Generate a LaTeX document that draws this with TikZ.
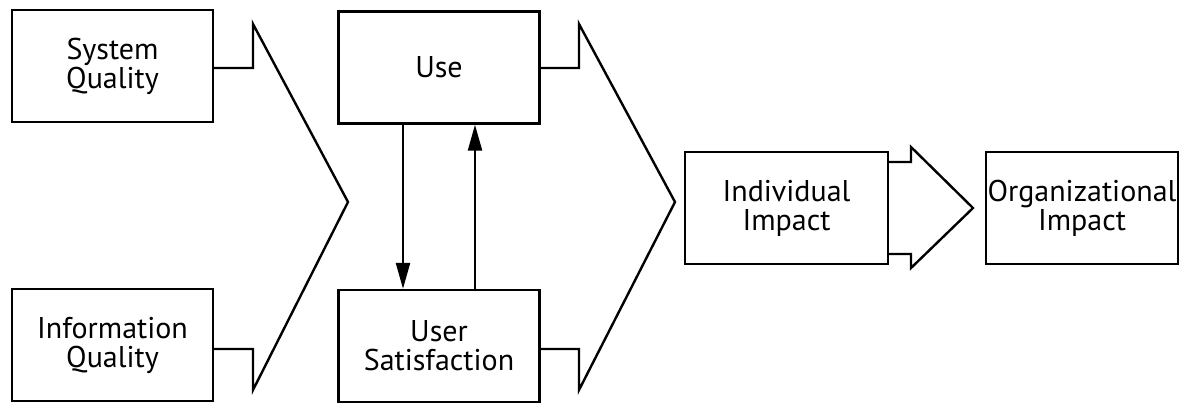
\documentclass[tikz,border=0pt]{standalone}
\usepackage{fontspec}
\setmainfont{PT Sans}
\usetikzlibrary{arrows.meta}
\begin{document}
\begin{tikzpicture}[x=1pt,y=-1pt,
  box/.style={draw, line width=2.4pt, minimum width=201pt, minimum height=112pt, align=center, inner sep=0pt,
    font=\fontsize{30}{29}\selectfont},
  ln/.style={line width=2.4pt, line join=miter},
  arr/.style={line width=2.4pt, -{Triangle[length=26pt,width=14pt]}}]
\useasboundingbox (0,0) rectangle (1180,402);
\node[box] (sq) at (112.5,66) {System\\Quality};
\node[box] (iq) at (112.5,345) {Information\\Quality};
\node[box] (use) at (439,67.5) {Use};
\node[box] (us) at (439,346) {User\\Satisfaction};
\node[box, minimum width=203pt] (ii) at (786.5,208) {Individual\\Impact};
\node[box, minimum width=192pt] (oi) at (1082,208) {Organizational\\Impact};
% left chevron
\coordinate (c1tip) at (348,202);
\draw[ln] (sq.east |- 0,68) -- (253,68) -- (253,24) -- (c1tip) -- (253,390) -- (253,349) -- (iq.east |- 0,349);
% middle chevron
\coordinate (c2tip) at (675,202);
\draw[ln] (use.east |- 0,68) -- (579,68) -- (579,24) -- (c2tip) -- (579,390) -- (579,349) -- (us.east |- 0,349);
% block arrow
\coordinate (c3tip) at (973,208);
\draw[ln] (ii.east |- 0,162) -- (911,162) -- (911,147) -- (c3tip) -- (911,268) -- (911,254) -- (ii.east |- 0,254);
% feedback arrows
\draw[arr] (use.south -| 403,0) -- (us.north -| 403,0);
\draw[arr] (us.north -| 475,0) -- (use.south -| 475,0);
\end{tikzpicture}
\end{document}
